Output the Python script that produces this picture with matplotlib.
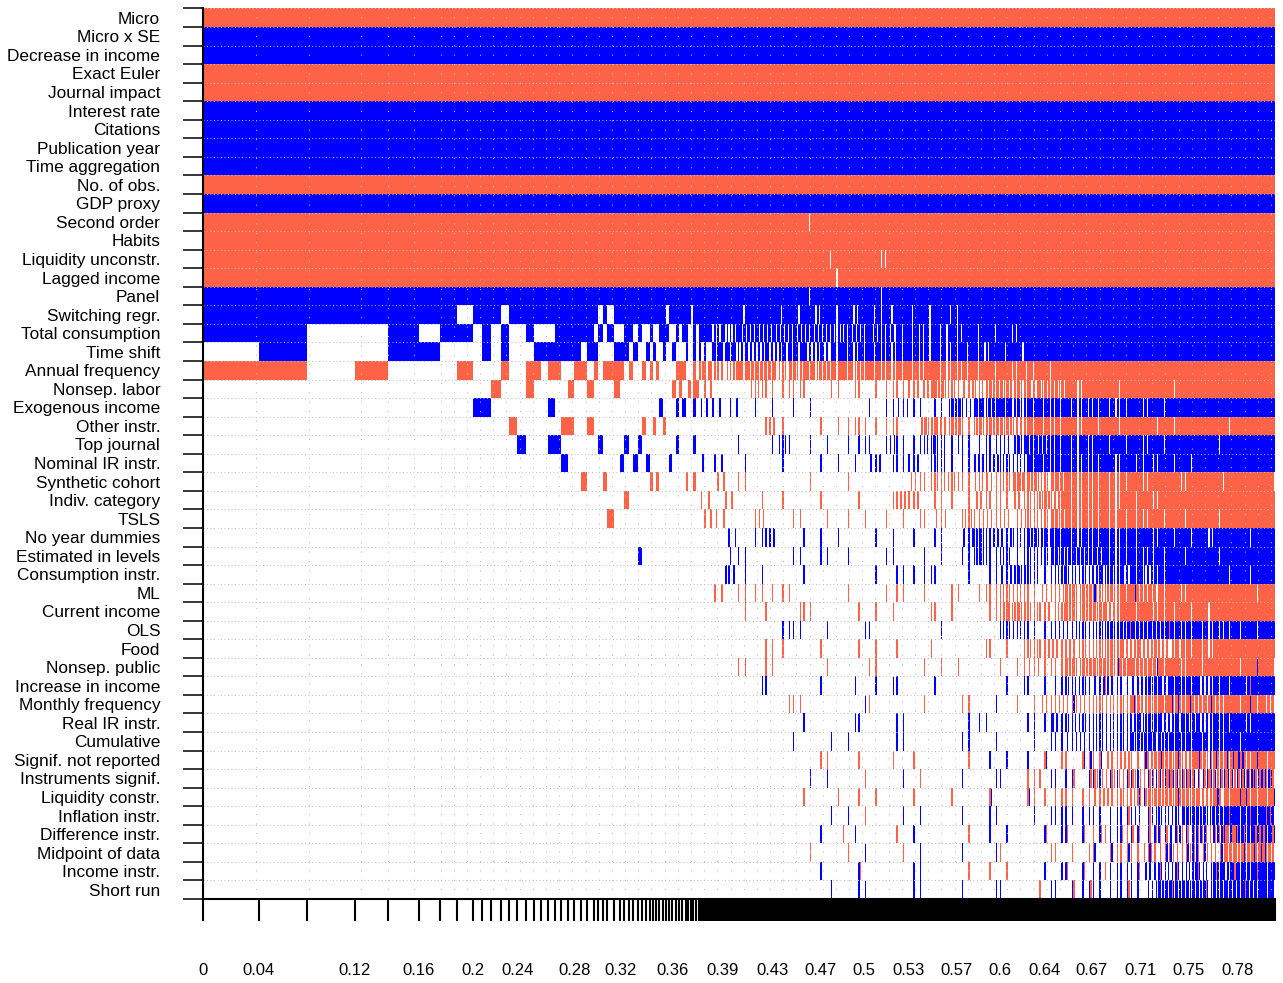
import numpy as np
import matplotlib
matplotlib.use("Agg")
import matplotlib.pyplot as plt
from matplotlib.colors import ListedColormap, BoundaryNorm

plt.rcParams['font.family'] = ['Liberation Sans', 'DejaVu Sans']

variables = [
    "Micro", "Micro x SE", "Decrease in income", "Exact Euler", "Journal impact",
    "Interest rate", "Citations", "Publication year", "Time aggregation", "No. of obs.",
    "GDP proxy", "Second order", "Habits", "Liquidity unconstr.", "Lagged income",
    "Panel", "Switching regr.", "Total consumption", "Time shift", "Annual frequency",
    "Nonsep. labor", "Exogenous income", "Other instr.", "Top journal", "Nominal IR instr.",
    "Synthetic cohort", "Indiv. category", "TSLS", "No year dummies", "Estimated in levels",
    "Consumption instr.", "ML", "Current income", "OLS", "Food",
    "Nonsep. public", "Increase in income", "Monthly frequency", "Real IR instr.", "Cumulative",
    "Signif. not reported", "Instruments signif.", "Liquidity constr.", "Inflation instr.",
    "Difference instr.", "Midpoint of data", "Income instr.", "Short run",
]

# +1 = positive coefficient (blue), -1 = negative coefficient (red)
row_sign = [-1, 1, 1, -1, -1, 1, 1, 1, 1, -1,
            1, -1, -1, -1, -1, 1, 1, 1, 1, -1,
            -1, 1, -1, 1, 1, -1, -1, -1, 1, 1,
            1, -1, -1, 1, -1, -1, 1, -1, 1, 1,
            -1, 1, -1, 1, 1, -1, 1, 1]

# posterior model probabilities of the 16 best models
top_model_pmp = [0.04196, 0.03657, 0.03657, 0.02496, 0.02329, 0.01593, 0.01305, 0.01222,
                 0.00728, 0.00675, 0.00728, 0.00607, 0.00645, 0.00683, 0.00569, 0.00569]

# inclusion of each variable in the 16 best models
top_model_incl = [
    "1111111111111111", "1111111111111111", "1111111111111111", "1111111111111111",
    "1111111111111111", "1111111111111111", "1111111111111111", "1111111111111111",
    "1111111111111111", "1111111111111111", "1111111111111111", "1111111111111111",
    "1111111111111111", "1111111111111111", "1111111111111111", "1111111111111111",
    "1111111011101111", "1100101101010010", "0100110001010001", "1101000100010011",
    "0000000000100010", "0000000011000000", "0000000000001000", "0000000000000100",
    "0000000000000000", "0000000000000000", "0000000000000000", "0000000000000000",
    "0000000000000000", "0000000000000000", "0000000000000000", "0000000000000000",
    "0000000000000000", "0000000000000000", "0000000000000000", "0000000000000000",
    "0000000000000000", "0000000000000000", "0000000000000000", "0000000000000000",
    "0000000000000000", "0000000000000000", "0000000000000000", "0000000000000000",
    "0000000000000000", "0000000000000000", "0000000000000000", "0000000000000000",
]

# remaining models, grouped in bins of equal cumulative probability
tail_bin_pmp = 0.009938
tail_models_per_bin = [2, 2, 2, 2, 3, 2, 3, 3, 4, 4, 4, 5, 7, 7, 8,
                       10, 10, 10, 10, 10, 10, 10, 10, 10, 10,
                       10, 10, 10, 10, 10, 10, 10, 10, 10, 10,
                       10, 10, 10, 10, 10, 10, 10, 10, 10, 10,
                       10, 10, 10, 10, 10, 10, 10, 10, 10, 10, 10]

# share (0-9) of the models in each bin that include the variable with its usual sign
tail_main = [
    "99999999" "99999999" "99999999" "99999999" "99999999" "99999999" "99999999",
    "99999999" "99999999" "99999999" "99999999" "99999999" "99999999" "99999999",
    "99999999" "99999999" "99999999" "99999999" "99999999" "99999999" "99999999",
    "99999999" "99999999" "99999999" "99999999" "99999999" "99999999" "99999999",
    "99999999" "99999999" "99999999" "99999999" "99999999" "99999999" "99999999",
    "99999999" "99999999" "99999999" "99999999" "99999999" "99999999" "99999999",
    "99999999" "99999999" "99999999" "99999999" "99999999" "99999999" "99999999",
    "99999999" "99999999" "99999999" "99999999" "99999999" "99999999" "99999999",
    "99999999" "99999999" "99999999" "99999999" "99999999" "99999999" "99999999",
    "99999999" "99999999" "99999999" "99999999" "99999999" "99999999" "99999999",
    "99999999" "99999999" "99999999" "99999999" "99999999" "99999999" "99999999",
    "99999999" "99999999" "99998999" "99999999" "99999999" "99999999" "99999999",
    "99999999" "99999999" "99999999" "99999999" "99999999" "99999999" "99999999",
    "99999999" "99999999" "99999989" "98899999" "99999999" "99999999" "99999999",
    "99999999" "99999999" "99999989" "99999999" "99999999" "99999999" "99999999",
    "99999999" "99999999" "99998999" "98999999" "99999999" "99999999" "99999999",
    "99996699" "97889998" "99888888" "87898897" "99999999" "99999999" "99999999",
    "07993472" "17549546" "66666656" "66677778" "88888999" "99999999" "99999999",
    "98862464" "42232776" "66676677" "77777777" "87888999" "99999999" "99999999",
    "22156771" "50626457" "66457677" "67777877" "78888789" "99999999" "99999999",
    "00350200" "00452000" "42221021" "11223654" "34555655" "88998999" "89999999",
    "50000000" "03522220" "11011000" "01232025" "37675777" "77777888" "99999999",
    "03640003" "22000000" "03100112" "21210565" "25556777" "88898998" "89998999",
    "22003032" "00220001" "01401101" "21322442" "22235667" "78888888" "99989999",
    "05000031" "12001301" "00100111" "03123141" "26344777" "77788788" "88999999",
    "00013000" "50040302" "00001001" "00003244" "24346546" "77777889" "88998998",
    "00000030" "00003020" "10100100" "10133021" "13223456" "77778888" "99999999",
    "00000300" "00002200" "30020101" "10111130" "43333445" "77778788" "98989999",
    "00000000" "00000020" "23001110" "01101020" "35334567" "77777888" "88889989",
    "00000003" "00000012" "00020201" "00200110" "25242445" "66677778" "98989999",
    "00000000" "00000031" "10001000" "01021210" "10235424" "44656767" "99998989",
    "00000000" "00000202" "21200001" "00120102" "02244233" "55457667" "88999989",
    "00000000" "00000001" "01012000" "11100111" "00265434" "55568887" "88899999",
    "00000000" "00000000" "00220100" "11000010" "00044223" "34455666" "77777889",
    "00000000" "00000000" "02100100" "11010100" "01111433" "34456663" "67789999",
    "00000000" "00000002" "02000100" "02000111" "00012322" "55556667" "88899888",
    "00000000" "00000000" "11000101" "01110010" "00011112" "44332356" "77678889",
    "00000000" "00000000" "00120000" "01000100" "20001133" "33444557" "56668876",
    "00000000" "00000000" "00001001" "10020000" "12000223" "44444656" "65677889",
    "00000000" "00000000" "00010011" "00020000" "20100112" "33444565" "77778899",
    "00000000" "00000000" "00000200" "10101000" "10000011" "12233265" "56555678",
    "00000000" "00000000" "00001100" "00010000" "10110011" "21221233" "33333444",
    "00000000" "00000000" "00001010" "11001001" "00100212" "22334455" "55667777",
    "00000000" "00000000" "00000011" "00011000" "10200112" "22222334" "45567776",
    "00000000" "00000000" "00000101" "00001000" "00110011" "11121222" "32332566",
    "00000000" "00000000" "00001001" "00010000" "00010011" "11122243" "33336555",
    "00000000" "00000000" "00000100" "10002000" "00000011" "11222234" "44456778",
    "00000000" "00000000" "00000010" "20002000" "10110011" "12222235" "55556667",
]

# share (0-9) of the models in each bin that include the variable with the opposite sign
tail_other = [""] * 31 + [
    "00000000" "00000000" "00000000" "00000000" "00000000" "00100100" "00000000",
    "",
    "00000000" "00000000" "00000000" "00000000" "00000000" "00001001" "00000000",
    "",
    "00000000" "00000000" "00000000" "00000000" "00000000" "00001001" "00000010",
    "00000000" "00000000" "00000000" "00000000" "00000000" "00010000" "00000010",
    "00000000" "00000000" "00000000" "10000000" "00100000" "10000100" "21010010",
    "",
    "",
    "00000000" "00000000" "00000000" "00000000" "00110110" "02100011" "10122210",
    "00000000" "00000000" "00000000" "10001000" "00000210" "11333334" "44344344",
    "00000000" "00000000" "00000000" "00000000" "00100100" "00000110" "10010201",
    "00000000" "00000000" "00000000" "10000000" "00000000" "00001010" "00001012",
    "00000000" "00000000" "00000001" "00010000" "10000010" "11212222" "22336222",
    "00000000" "00000000" "00000000" "10001000" "10100000" "00111011" "12210121",
    "00000000" "00000000" "00000000" "10000000" "10110000" "11010101" "10111010",
    "00000000" "00000000" "00000000" "00000000" "00000010" "11001000" "10100100",
]

xtick_text = ["0", "0.04", "0.12", "0.16", "0.2", "0.24", "0.28", "0.32", "0.36", "0.39",
              "0.43", "0.47", "0.5", "0.53", "0.57", "0.6", "0.64", "0.67", "0.71", "0.75", "0.78"]
xtick_at = [0.0, 0.0420, 0.1151, 0.1634, 0.2046, 0.2384, 0.2805, 0.3177, 0.3564, 0.3938,
            0.4313, 0.4685, 0.5013, 0.5347, 0.5715, 0.6045, 0.6379, 0.6743, 0.7107, 0.7479, 0.7843]

# ---------------------------------------------------------------- build model matrix
nvar = len(variables)
nbins = len(tail_models_per_bin)


def spread(seq, c):
    if c <= 0:
        return []
    n = len(seq)
    return [seq[(i * n) // c] for i in range(c)]


def share_to_count(d, m):
    if d <= 0:
        return 0
    return min(m, max(1, int(round(m * d / 9.0))))


edges = [0.0]
columns = []
for j, p in enumerate(top_model_pmp):
    edges.append(edges[-1] + p)
    columns.append([row_sign[r] if top_model_incl[r][j] == "1" else 0 for r in range(nvar)])

for b, m in enumerate(tail_models_per_bin):
    block = np.zeros((nvar, m))
    for r in range(nvar):
        s_main = tail_main[r].ljust(nbins, "0")
        s_oth = tail_other[r].ljust(nbins, "0") if tail_other[r] else "0" * nbins
        cm = share_to_count(int(s_main[b]), m)
        co = min(share_to_count(int(s_oth[b]), m), m - cm)
        off = (5 * r + 3 * b) % m
        slots = [(off + k) % m for k in range(m)]
        main_idx = spread(slots, cm)
        rest = [s for s in slots if s not in main_idx]
        oth_idx = spread(rest, co)
        for k in main_idx:
            block[r, k] = row_sign[r]
        for k in oth_idx:
            block[r, k] = -row_sign[r]
    w = tail_bin_pmp / m
    for k in range(m):
        edges.append(edges[-1] + w)
        columns.append(list(block[:, k]))

edges = np.array(edges)
C = np.array(columns).T

# ---------------------------------------------------------------- draw
W, H = 1283, 983
fig = plt.figure(figsize=(W / 100, H / 100), dpi=100)
ax = fig.add_axes([203.3 / W, 84.0 / H, (1275 - 203.3) / W, 890.5 / H])

cmap = ListedColormap(["#FF6347", "white", "#0000FF"])
norm = BoundaryNorm([-1.5, -0.5, 0.5, 1.5], 3)
ax.pcolormesh(edges, np.arange(nvar + 1), C, cmap=cmap, norm=norm,
              shading="flat", antialiased=False, linewidth=0, zorder=1)

# dotted grid
for yv in range(nvar + 1):
    ax.axhline(yv, color="#BEBEBE", lw=0.7, ls=(0, (1, 2.6)), zorder=2)
for xv in sorted(set(np.round(edges, 2))):
    if xv <= edges[-1]:
        ax.axvline(xv, color="#BEBEBE", lw=0.75, ls=(0, (1, 8)), zorder=2)

ax.set_xlim(0, edges[-1])
ax.set_ylim(nvar, 0)

for side in ["top", "right"]:
    ax.spines[side].set_visible(False)
for side in ["left", "bottom"]:
    ax.spines[side].set_linewidth(1.5)
    ax.spines[side].set_zorder(5)

label_locs = [edges[np.argmin(np.abs(edges - a))] for a in xtick_at]
ax.set_xticks(label_locs)
ax.set_xticklabels(xtick_text)
ax.set_xticks(edges, minor=True)
ax.tick_params(axis="x", which="both", length=15.6, width=1.5, direction="out", color="black")
ax.tick_params(axis="x", which="major", pad=30.5, labelsize=12)

ax.set_yticks(np.arange(nvar + 1))
ax.set_yticklabels([])
ax.set_yticks(np.arange(nvar) + 0.5, minor=True)
ax.set_yticklabels(variables, minor=True)
ax.tick_params(axis="y", which="major", length=14.4, width=1.1, direction="out")
ax.tick_params(axis="y", which="minor", length=0, pad=31, labelsize=12.4)

fig.savefig("out.png", dpi=100)
